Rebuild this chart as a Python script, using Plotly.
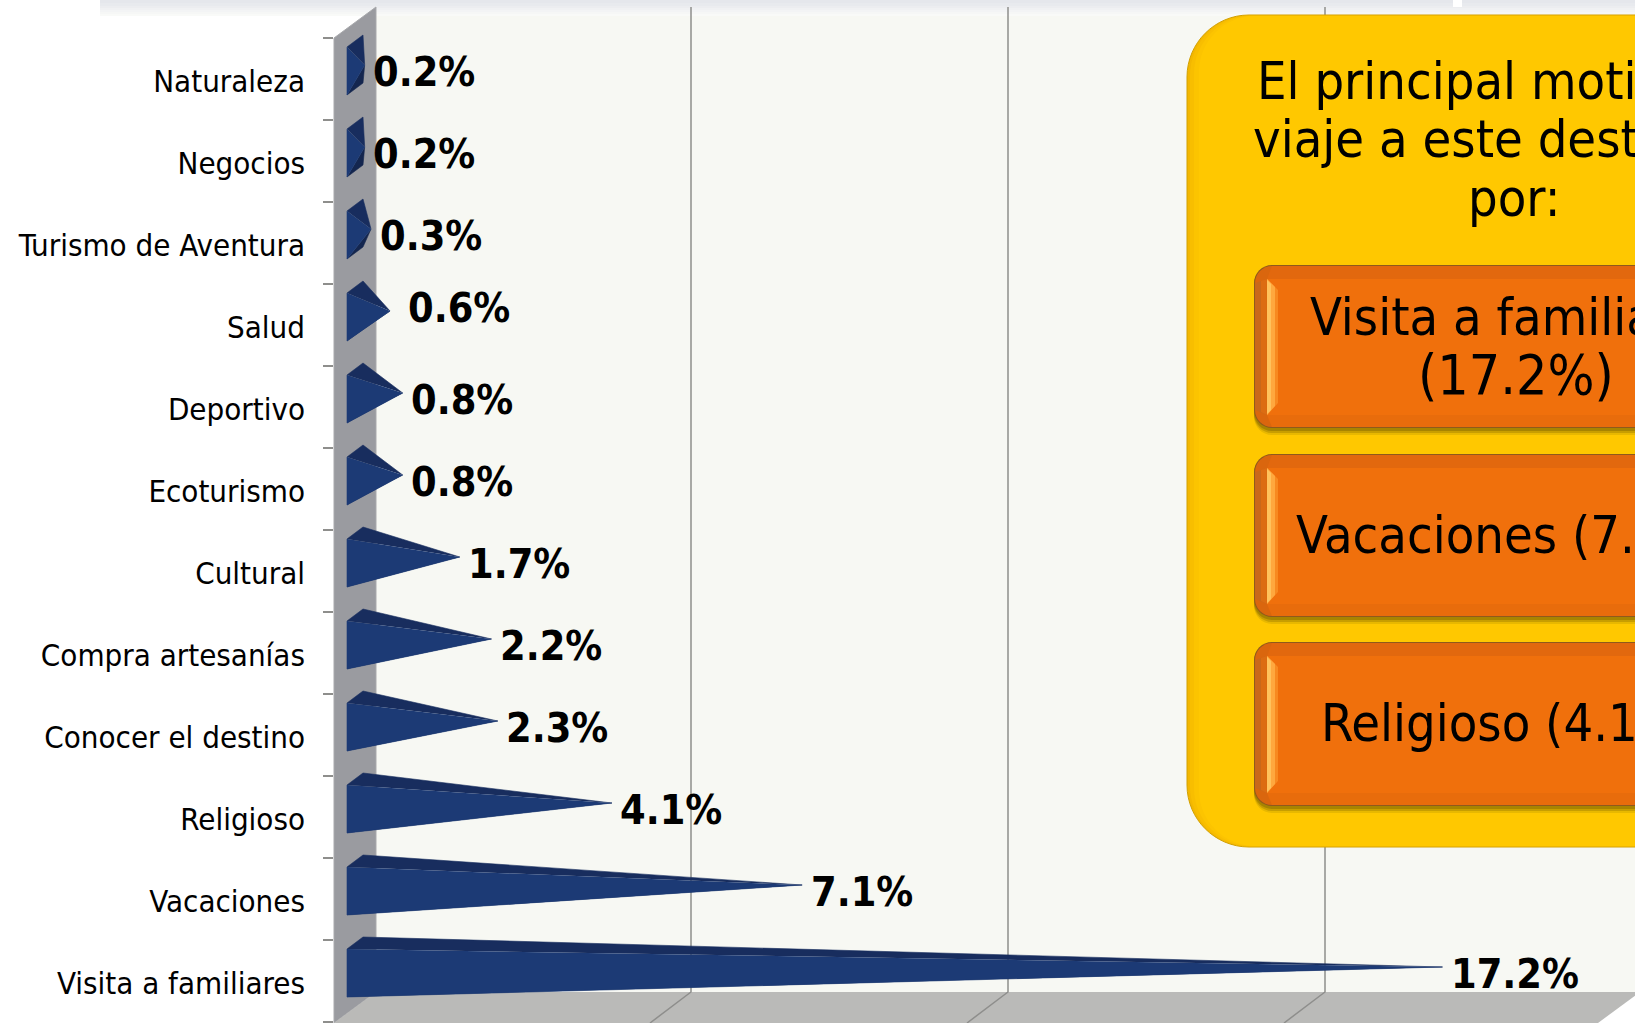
import plotly.graph_objects as go

# ---- data ----
categories = ["Naturaleza", "Negocios", "Turismo de Aventura", "Salud", "Deportivo", "Ecoturismo",
              "Cultural", "Compra artesanías", "Conocer el destino", "Religioso", "Vacaciones", "Visita a familiares"]
values = [0.2, 0.2, 0.3, 0.6, 0.8, 0.8, 1.7, 2.2, 2.3, 4.1, 7.1, 17.2]
grid_values = [5, 10, 15]
panel_title = ["El principal motivo de", "viaje a este destino fue", "por:"]
panel_items = ["Visita a familiares", "(17.2%)", "Vacaciones (7.1%)", "Religioso (4.1%)"]

# ---- layout constants (pixels) ----
W, H = 1635, 1023
PLOT_L = 334
UNIT = 63.4          # px per value unit
X0 = 347             # px of value 0 at the bar front
ROW = 82             # px per category
Y0 = 79              # px of first category centre
TXT = "DejaVu Sans Condensed, DejaVu Sans, sans-serif"

def xpx(px): return (px - X0) / UNIT
def ypx(py): return (py - Y0) / ROW
def PX(px): return (px - PLOT_L) / (W - PLOT_L)
def PY(py): return 1 - py / H
n = len(categories)

# pyramid geometry offsets in data units
half_h = 24 / ROW
front_dy = -8 / ROW
back_dx, back_dy = 16 / UNIT, -12 / ROW
apex_dx, apex_dy = 5 / UNIT, -6 / ROW

under_x, under_y, top_x, top_y, front_x, front_y = [], [], [], [], [], []
for i, v in enumerate(values):
    c = i + front_dy
    ax, ay = v + apex_dx, c + apex_dy
    under_x += [0, back_dx, ax, None]; under_y += [c + half_h, c + half_h + back_dy, ay, None]
    top_x += [0, back_dx, ax, None]; top_y += [c - half_h, c - half_h + back_dy, ay, None]
    front_x += [0, 0, ax, None]; front_y += [c - half_h, c + half_h, ay, None]

fig = go.Figure()

# gridlines on the back wall and floor
wall_dx = 27 / UNIT
floor_dx, floor_dy = -41 / UNIT, 31 / ROW
gx, gy = [], []
for g in grid_values:
    bx = g + wall_dx
    gx += [bx, bx, bx + floor_dx, None]
    gy += [ypx(7), ypx(992), ypx(992) + floor_dy, None]
fig.add_trace(go.Scatter(x=gx, y=gy, mode="lines", line=dict(color="#8E8E8C", width=1.5), hoverinfo="skip", showlegend=False))

for xs, ys, col in [(under_x, under_y, "#14264F"), (top_x, top_y, "#182D5E"), (front_x, front_y, "#1C3A75")]:
    fig.add_trace(go.Scatter(x=xs, y=ys, mode="lines", fill="toself", fillcolor=col,
                             line=dict(width=0.6, color=col), hoverinfo="skip", showlegend=False))

# ---- decoration shapes ----
def rect(x0, y0, x1, y1, col, layer="below"):
    return dict(type="rect", xref="paper", yref="paper", x0=PX(x0), x1=PX(x1), y0=PY(y0), y1=PY(y1),
                fillcolor=col, line_width=0, layer=layer)

def poly(pts, col, layer="below", line=None):
    p = "M " + " L ".join(f"{PX(a):.5f},{PY(b):.5f}" for a, b in pts) + " Z"
    return dict(type="path", xref="paper", yref="paper", path=p, fillcolor=col,
                line=dict(width=1 if line else 0, color=line or col), layer=layer)

def rrect(x0, y0, x1, y1, r, col, layer="above", line=None):
    k = 0.45 * r
    f = lambda a, b: f"{PX(a):.5f},{PY(b):.5f}"
    p = (f"M {f(x0 + r, y0)} L {f(x1 - r, y0)} C {f(x1 - k, y0)} {f(x1, y0 + k)} {f(x1, y0 + r)} "
         f"L {f(x1, y1 - r)} C {f(x1, y1 - k)} {f(x1 - k, y1)} {f(x1 - r, y1)} "
         f"L {f(x0 + r, y1)} C {f(x0 + k, y1)} {f(x0, y1 - k)} {f(x0, y1 - r)} "
         f"L {f(x0, y0 + r)} C {f(x0, y0 + k)} {f(x0 + k, y0)} {f(x0 + r, y0)} Z")
    return dict(type="path", xref="paper", yref="paper", path=p, fillcolor=col,
                line=dict(width=1 if line else 0, color=line or col), layer=layer)

shapes = []
# walls
shapes.append(poly([(376, 7), (1700, 7), (1700, 992), (376, 992)], "#F7F8F3"))
# top band fade (over the back wall as well)
for y0, y1, col in [(0, 3, "#E5E7EC"), (3, 6, "#E8EAEE"), (6, 8, "#ECEDF0"), (8, 10, "#F0F1F3"),
                    (10, 12, "#F3F4F5"), (12, 14, "#F6F7F6"), (14, 16, "#F9FAF8")]:
    shapes.append(rect(100, y0, W, y1, col))
shapes.append(rect(1453, 0, 1462, 7, "#FFFFFF"))
shapes.append(poly([(334, 38), (376, 7), (376, 992), (334, 1023)], "#9A9BA0", line="#A8A9AC"))
shapes.append(poly([(334, 1023), (376, 992), (1640, 992), (1598, 1023)], "#BABAB8"))

# panel
shapes.append(rrect(1187, 15, 1843, 847, 62, "#F3B700", line="#D2A000"))
shapes.append(rrect(1190, 15.5, 1843, 846.5, 60, "#F8BE00"))
shapes.append(rrect(1194, 16, 1843, 846, 58, "#FCC400"))
shapes.append(rrect(1199, 16, 1843, 846, 56, "#FFC800"))
for top, bot in [(265, 428), (454, 617), (642, 806)]:
    # soft shadow
    shapes.append(rrect(1254, top + 2, 1776, bot + 7, 18, "#E8B800"))
    shapes.append(rrect(1254, top + 2, 1776, bot + 5, 18, "#C89E00"))
    shapes.append(rrect(1254, top + 1, 1776, bot + 3, 18, "#A88400"))
    # body
    shapes.append(rrect(1254, top, 1776, bot, 18, "#8F5A1C"))
    shapes.append(rrect(1255, top + 1, 1775, bot - 1, 17, "#DA660E"))
    shapes.append(poly([(1272, top + 1), (1776, top + 1), (1776, top + 14), (1267, top + 14)], "#E2680E", layer="above"))
    shapes.append(poly([(1272, bot - 1), (1776, bot - 1), (1776, bot - 13), (1267, bot - 13)], "#E86C0C", layer="above"))
    shapes.append(poly([(1255, top + 18), (1267, top + 14), (1267, bot - 13), (1255, bot - 18)], "#C9681A", layer="above"))
    shapes.append(poly([(1261, top + 16), (1267, top + 14), (1267, bot - 13), (1261, bot - 16)], "#DC6C12", layer="above"))
    shapes.append(poly([(1267, top + 14), (1776, top + 14), (1776, bot - 13), (1267, bot - 13)], "#F0700C", layer="above"))
    # highlight strip
    shapes.append(poly([(1267, top + 14), (1278, top + 25), (1278, bot - 25), (1267, bot - 13)], "#F88A20", layer="above"))
    shapes.append(poly([(1267, top + 14), (1275, top + 22), (1275, bot - 22), (1267, bot - 13)], "#FFA83E", layer="above"))
    shapes.append(poly([(1267, top + 15), (1271, top + 19), (1271, bot - 18), (1267, bot - 14)], "#FFC25C", layer="above"))

# ---- text ----
anns = []
label_gap = 6.5
label_dy = -6.5
offs = {3: (9.5, 10)}
for i, (v, c) in enumerate(zip(values, categories)):
    dx, dy = offs.get(i, (0, 0))
    anns.append(dict(x=v + apex_dx, y=i + apex_dy + front_dy, xref="x", yref="y", text=f"<b>{v:.1f}%</b>",
                     showarrow=False, xanchor="left", yanchor="middle", xshift=label_gap + dx, yshift=label_dy + dy,
                     font=dict(family=TXT, size=41, color="#000000")))

def line(txt, left, py, size=52):
    return dict(x=PX(left), y=PY(py), xref="paper", yref="paper", text=txt, showarrow=False,
                xanchor="left", yanchor="middle", font=dict(family=TXT, size=size, color="#000000"))

for t, left, py in zip(panel_title, [1255, 1251, 1466], [81, 139, 198]):
    anns.append(line(t, left, py))
for t, left, py, size in zip(panel_items, [1308, 1416, 1294, 1319], [317, 375, 535, 723], [52, 55, 52, 52]):
    anns.append(line(t, left, py, size))

label_nudge = 2 / ROW
fig.update_layout(
    width=W, height=H, margin=dict(l=PLOT_L, r=0, t=0, b=0, autoexpand=False),
    paper_bgcolor="#FFFFFF", plot_bgcolor="rgba(0,0,0,0)", showlegend=False,
    shapes=shapes, annotations=anns,
    xaxis=dict(range=[xpx(PLOT_L), xpx(W)], showgrid=False, zeroline=False, showticklabels=False, ticks=""),
    yaxis=dict(range=[ypx(H), ypx(0)], tickmode="array", tickvals=[i + label_nudge for i in range(n)], ticktext=categories,
               showgrid=False, zeroline=False, showline=False, ticks="", ticklabelstandoff=28,
               tickfont=dict(family=TXT, size=31, color="#000000"),
               minor=dict(tickmode="array", tickvals=[i - 0.5 for i in range(n + 1)], ticks="outside",
                          ticklen=10, tickwidth=1.5, tickcolor="#8E8E8C", showgrid=False)),
)
fig.write_html("out.html", config={"displayModeBar": False},
               post_script="document.body.style.margin='0';document.documentElement.style.overflow='hidden';")
